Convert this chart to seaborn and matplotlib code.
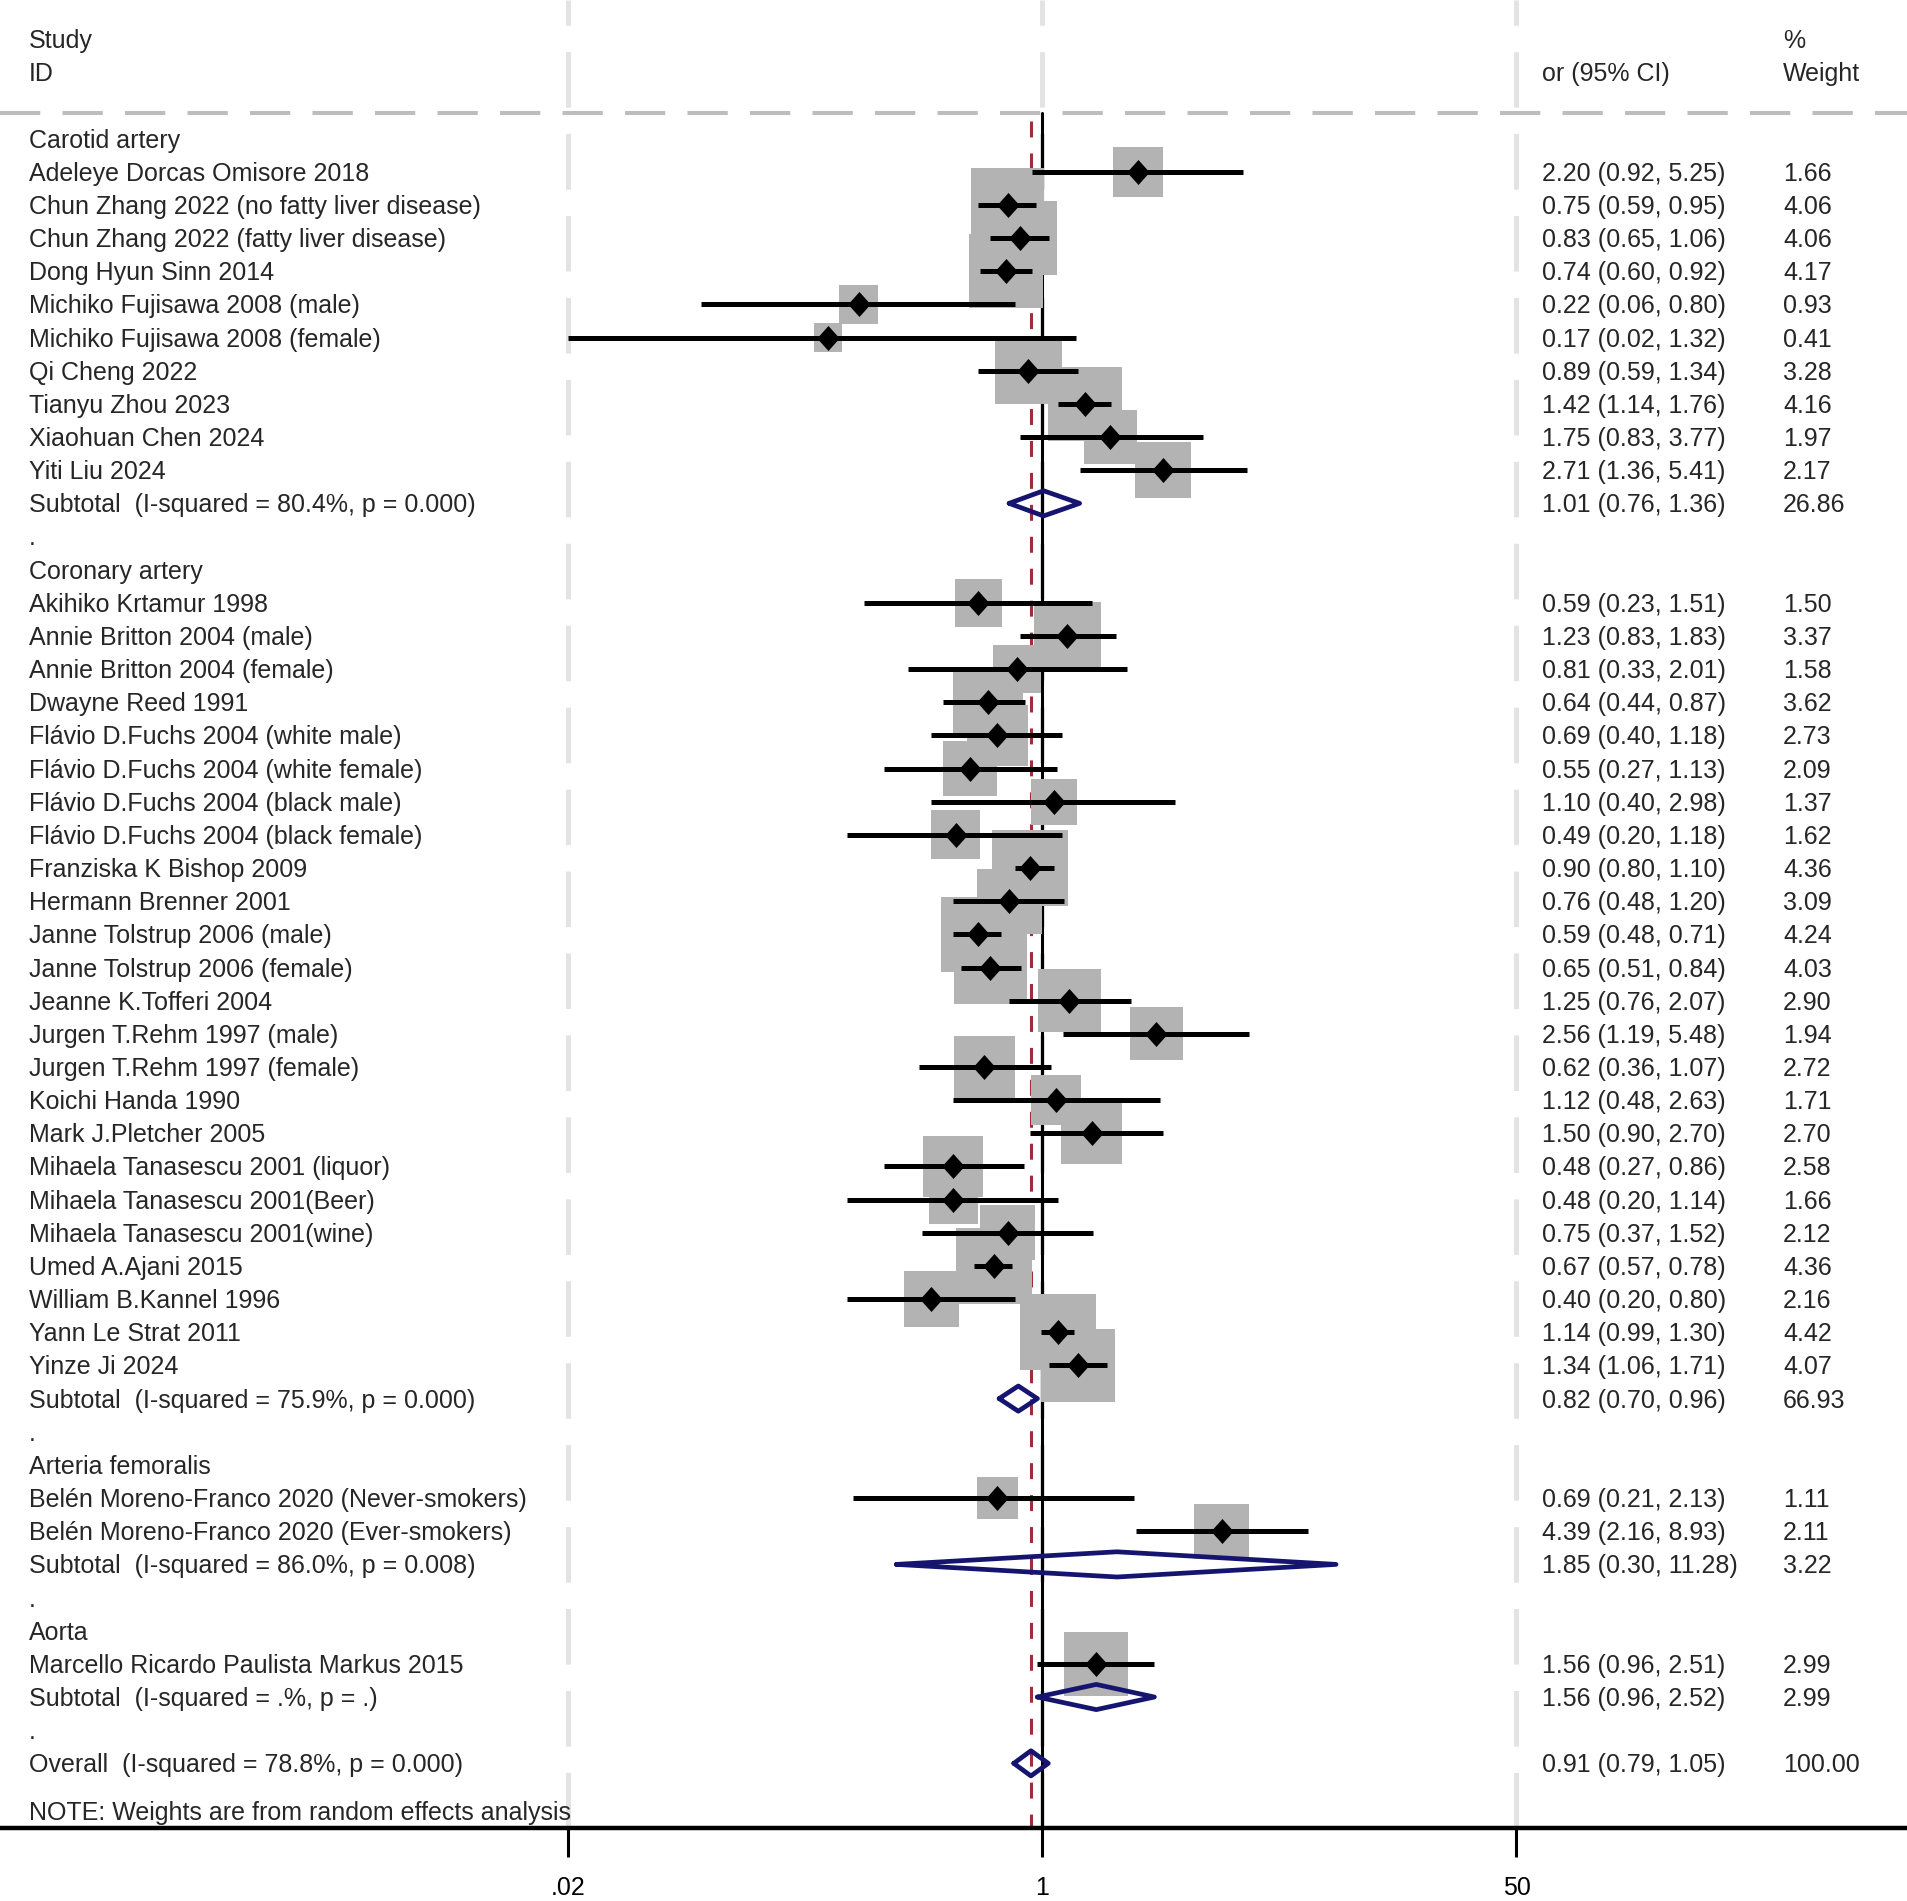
import numpy as np
import pandas as pd
import matplotlib
matplotlib.use("Agg")
import matplotlib.pyplot as plt
import matplotlib.transforms as mtransforms
import seaborn as sns

# ---- data ----
groups = ["Carotid artery", "Coronary artery", "Arteria femoralis", "Aorta"]

study_group = (["Carotid artery"] * 10 + ["Coronary artery"] * 24
               + ["Arteria femoralis"] * 2 + ["Aorta"] * 1)

study_id = [
    "Adeleye Dorcas Omisore 2018",
    "Chun Zhang 2022 (no fatty liver disease)",
    "Chun Zhang 2022 (fatty liver disease)",
    "Dong Hyun Sinn 2014",
    "Michiko Fujisawa 2008 (male)",
    "Michiko Fujisawa 2008 (female)",
    "Qi Cheng 2022",
    "Tianyu Zhou 2023",
    "Xiaohuan Chen 2024",
    "Yiti Liu 2024",
    "Akihiko Krtamur 1998",
    "Annie Britton 2004 (male)",
    "Annie Britton 2004 (female)",
    "Dwayne Reed 1991",
    "Flávio D.Fuchs 2004 (white male)",
    "Flávio D.Fuchs 2004 (white female)",
    "Flávio D.Fuchs 2004 (black male)",
    "Flávio D.Fuchs 2004 (black female)",
    "Franziska K Bishop 2009",
    "Hermann Brenner 2001",
    "Janne Tolstrup 2006 (male)",
    "Janne Tolstrup 2006 (female)",
    "Jeanne K.Tofferi 2004",
    "Jurgen T.Rehm 1997 (male)",
    "Jurgen T.Rehm 1997 (female)",
    "Koichi Handa 1990",
    "Mark J.Pletcher 2005",
    "Mihaela Tanasescu 2001 (liquor)",
    "Mihaela Tanasescu 2001(Beer)",
    "Mihaela Tanasescu 2001(wine)",
    "Umed A.Ajani 2015",
    "William B.Kannel 1996",
    "Yann Le Strat 2011",
    "Yinze Ji 2024",
    "Belén Moreno-Franco 2020 (Never-smokers)",
    "Belén Moreno-Franco 2020 (Ever-smokers)",
    "Marcello Ricardo Paulista Markus 2015",
]
study_or = [2.20, 0.75, 0.83, 0.74, 0.22, 0.17, 0.89, 1.42, 1.75, 2.71,
            0.59, 1.23, 0.81, 0.64, 0.69, 0.55, 1.10, 0.49, 0.90, 0.76,
            0.59, 0.65, 1.25, 2.56, 0.62, 1.12, 1.50, 0.48, 0.48, 0.75,
            0.67, 0.40, 1.14, 1.34,
            0.69, 4.39,
            1.56]
study_lo = [0.92, 0.59, 0.65, 0.60, 0.06, 0.02, 0.59, 1.14, 0.83, 1.36,
            0.23, 0.83, 0.33, 0.44, 0.40, 0.27, 0.40, 0.20, 0.80, 0.48,
            0.48, 0.51, 0.76, 1.19, 0.36, 0.48, 0.90, 0.27, 0.20, 0.37,
            0.57, 0.20, 0.99, 1.06,
            0.21, 2.16,
            0.96]
study_hi = [5.25, 0.95, 1.06, 0.92, 0.80, 1.32, 1.34, 1.76, 3.77, 5.41,
            1.51, 1.83, 2.01, 0.87, 1.18, 1.13, 2.98, 1.18, 1.10, 1.20,
            0.71, 0.84, 2.07, 5.48, 1.07, 2.63, 2.70, 0.86, 1.14, 1.52,
            0.78, 0.80, 1.30, 1.71,
            2.13, 8.93,
            2.51]
study_wt = [1.66, 4.06, 4.06, 4.17, 0.93, 0.41, 3.28, 4.16, 1.97, 2.17,
            1.50, 3.37, 1.58, 3.62, 2.73, 2.09, 1.37, 1.62, 4.36, 3.09,
            4.24, 4.03, 2.90, 1.94, 2.72, 1.71, 2.70, 2.58, 1.66, 2.12,
            4.36, 2.16, 4.42, 4.07,
            1.11, 2.11,
            2.99]

subtotal_label = [
    "Subtotal  (I-squared = 80.4%, p = 0.000)",
    "Subtotal  (I-squared = 75.9%, p = 0.000)",
    "Subtotal  (I-squared = 86.0%, p = 0.008)",
    "Subtotal  (I-squared = .%, p = .)",
]
subtotal_or = [1.01, 0.82, 1.85, 1.56]
subtotal_lo = [0.76, 0.70, 0.30, 0.96]
subtotal_hi = [1.36, 0.96, 11.28, 2.52]
subtotal_wt = [26.86, 66.93, 3.22, 2.99]

overall_label = "Overall  (I-squared = 78.8%, p = 0.000)"
overall_or, overall_lo, overall_hi, overall_wt = 0.91, 0.79, 1.05, 100.00

tick_values = [0.02, 1, 50]
tick_labels = [".02", "1", "50"]
note_text = "NOTE: Weights are from random effects analysis"

# ---- build the row table (one row per line of the plot) ----
rows = []
for g, grp in enumerate(groups):
    rows.append(dict(kind="head", label=grp))
    for i in range(len(study_id)):
        if study_group[i] == grp:
            rows.append(dict(kind="study", label=study_id[i], est=study_or[i],
                             lo=study_lo[i], hi=study_hi[i], wt=study_wt[i]))
    rows.append(dict(kind="sub", label=subtotal_label[g], est=subtotal_or[g],
                     lo=subtotal_lo[g], hi=subtotal_hi[g], wt=subtotal_wt[g]))
    rows.append(dict(kind="gap", label="."))
rows.append(dict(kind="sub", label=overall_label, est=overall_or,
                 lo=overall_lo, hi=overall_hi, wt=overall_wt))
df = pd.DataFrame(rows)
df["y"] = np.arange(len(df))
studies = df[df["kind"] == "study"].copy()
pooled = df[df["kind"] == "sub"]

# box side in pixels grows with sqrt(weight); convert to scatter area (pt^2)
studies["box"] = ((7 + 33 * np.sqrt(studies["wt"])) * 0.72) ** 2

# ---- styling ----
sns.set_style("white")
plt.rcParams["font.family"] = ["Liberation Sans", "DejaVu Sans"]
plt.rcParams["lines.scale_dashes"] = False
FS = 18
NAVY = "#15156f"
DY = 0.06  # small nudge so text sits on the row like in the original

fig = plt.figure(figsize=(19.07, 19.01), dpi=100)
ax = fig.add_axes([0, 1 - 1828 / 1901, 1, 1828 / 1901])
ax.set_xscale("log")
ax.set_xlim(1.84e-4, 1254)
y_bottom = 50.95
ax.set_ylim(y_bottom, -4.18)
line_top = -0.77

# grid at ticks
ax.set_xticks(tick_values)
ax.set_xticklabels(tick_labels)
ax.minorticks_off()
ax.set_yticks([])
ax.grid(axis="x", color="#e3e3e3", linewidth=3.6, dashes=(40, 19))
ax.grid(axis="y", visible=False)
ax.set_axisbelow(True)

# header separator
ax.axhline(line_top, color="#bdbdbd", linewidth=2.9, dashes=(29, 16), zorder=1)

# reference line at 1 and dashed line at the overall estimate
ax.plot([1, 1], [line_top, y_bottom], color="black", linewidth=2.2, zorder=2)
ax.plot([overall_or, overall_or], [line_top + 0.25, y_bottom], color="#9e2f3a",
        linewidth=2.2, dashes=(11.5, 11.5), zorder=2)

# weight boxes
sns.scatterplot(data=studies, x="est", y="y", s=studies["box"].values, marker="s",
                color="#b3b3b3", linewidth=0, ax=ax, zorder=3, legend=False)

# confidence intervals
ax.hlines(studies["y"], studies["lo"], studies["hi"], color="black",
          linewidth=3.6, zorder=4)

# point estimates
diamond = [(0, 1), (0.9, 0), (0, -1), (-0.9, 0), (0, 1)]
sns.scatterplot(data=studies, x="est", y="y", marker=diamond, s=324,
                color="black", linewidth=0, ax=ax, zorder=5, legend=False)

# pooled diamonds
h = 0.38
for _, r in pooled.iterrows():
    xs = [r["lo"], r["est"], r["hi"], r["est"], r["lo"]]
    ys = [r["y"], r["y"] - h, r["y"], r["y"] + h, r["y"]]
    ax.plot(xs, ys, color=NAVY, linewidth=3.4, solid_joinstyle="round", zorder=6)

# text columns
tr = mtransforms.blended_transform_factory(ax.transAxes, ax.transData)
x_id, x_ci, x_wt = 29 / 1907, 1542 / 1907, 1783 / 1907
ax.text(x_id, -3 + DY, "Study", transform=tr, fontsize=FS, va="center")
ax.text(x_id, -2 + DY, "ID", transform=tr, fontsize=FS, va="center")
ax.text(x_ci, -2 + DY, "or (95% CI)", transform=tr, fontsize=FS, va="center")
ax.text(x_wt, -3 + DY, "%", transform=tr, fontsize=FS, va="center")
ax.text(x_wt, -2 + DY, "Weight", transform=tr, fontsize=FS, va="center")

for _, r in df.iterrows():
    ax.text(x_id, r["y"] + DY, r["label"], transform=tr, fontsize=FS, va="center")
    if r["kind"] in ("study", "sub"):
        ax.text(x_ci, r["y"] + DY, f"{r['est']:.2f} ({r['lo']:.2f}, {r['hi']:.2f})",
                transform=tr, fontsize=FS, va="center")
        ax.text(x_wt, r["y"] + DY, f"{r['wt']:.2f}", transform=tr, fontsize=FS,
                va="center")

ax.text(x_id, len(df) + 0.5, note_text, transform=tr, fontsize=FS, va="center")

# axis cosmetics
for side in ["left", "top", "right"]:
    ax.spines[side].set_visible(False)
ax.spines["bottom"].set_linewidth(3.2)
ax.spines["bottom"].set_color("black")
ax.tick_params(axis="x", direction="out", length=21, width=2.2, pad=13.5,
               labelsize=FS, colors="black", bottom=True)
ax.set_xlabel("")
ax.set_ylabel("")

fig.savefig("out.png", dpi=100)
